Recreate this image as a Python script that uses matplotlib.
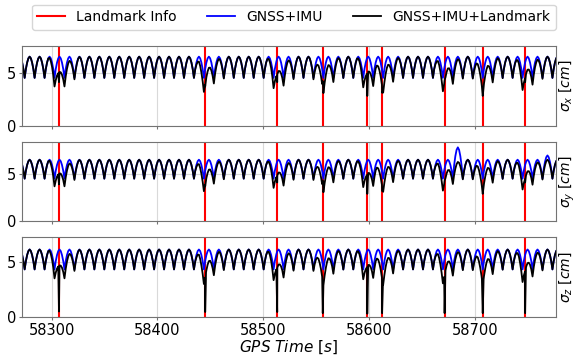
import numpy as np
import matplotlib.pyplot as plt

# epochs where landmark info is used [s]
landmark_t = [58307, 58445, 58513, 58556, 58598, 58612, 58671, 58707, 58747]

# one GNSS+IMU sigma arch (cusp -> peak -> cusp), read as fraction of the swing
arch_period = 9.4
arch_first_cusp = 58265.2
arch_frac = [0.0, 0.125, 0.25, 0.375, 0.5, 0.625, 0.75, 0.875]
arch_shape = [0.0, 0.42, 0.72, 0.92, 1.0, 0.92, 0.72, 0.42]

# arch levels per axis (x, y, z) [cm]
arch_lo = [4.5, 4.5, 4.3]
arch_hi = [6.5, 6.5, 6.1]

# extra GNSS+IMU growth on some arches (only sigma_y)
bump_t = [[], [58679, 58688, 58770], []]
bump_v = [[], [0.4, 0.9, 0.45], []]

# GNSS+IMU+Landmark sigma right at each landmark epoch [cm]
dip_x = [4.1, 3.7, 4.1, 4.2, 2.8, 3.1, 4.3, 2.8, 4.1]
dip_y = [3.9, 3.7, 4.1, 4.3, 2.9, 3.2, 4.3, 2.9, 4.1]
dip_z = [0.5, 0.45, 0.45, 0.35, 0.3, 0.35, 0.35, 0.35, 0.35]
dips = [dip_x, dip_y, dip_z]

# how far below GNSS+IMU the landmark solution stays around a landmark
red_dt = [-10, -6, -3, 0, 2, 5, 9, 14, 20]
red_w = [0.0, 0.3, 0.7, 1.0, 0.85, 0.55, 0.3, 0.1, 0.0]
red_amp = [1.5, 1.5, 1.5]

ylabels = [r'$\sigma_x\ [cm]$', r'$\sigma_y\ [cm]$', r'$\sigma_z\ [cm]$']
ytop = [7.5, 8.4, 7.2]
t_min, t_max = 58272, 58776

# ---------------- time samples ----------------
n_arch = int((t_max + 10 - arch_first_cusp) / arch_period) + 1
k = np.arange(n_arch)[:, None]
t_arch = (arch_first_cusp + (k + np.array(arch_frac)) * arch_period).ravel()
lm = np.array(landmark_t, dtype=float)
t = np.unique(np.concatenate([t_arch, lm - 0.8, lm, lm + 0.8]))
phase = ((t - arch_first_cusp) / arch_period) % 1
arch_idx = np.floor((t - arch_first_cusp) / arch_period)
shape = np.interp(phase, arch_frac + [1.0], arch_shape + [0.0])

fig, axes = plt.subplots(3, 1, figsize=(5.76, 3.58), dpi=100, sharex=True)
fig.subplots_adjust(left=0.038, right=0.965, top=0.8715, bottom=0.1145, hspace=0.2)

for i, ax in enumerate(axes):
    base = arch_lo[i] + (arch_hi[i] - arch_lo[i]) * shape

    blue = base.copy()
    for bt, bv in zip(bump_t[i], bump_v[i]):
        m = arch_idx == np.floor((bt - arch_first_cusp) / arch_period)
        blue[m] += bv * shape[m]

    red = np.zeros_like(t)
    for tl in landmark_t:
        red = np.maximum(red, red_amp[i] * np.interp(t - tl, red_dt, red_w, left=0, right=0))
    black = base - red
    for tl, d in zip(landmark_t, dips[i]):
        black[t == tl] = d

    for j, tl in enumerate(landmark_t):
        ax.axvline(tl, color='red', lw=1.5, label='Landmark Info' if j == 0 else None)
    ax.plot(t, blue, color='blue', lw=1.3, label='GNSS+IMU')
    ax.plot(t, black, color='black', lw=1.3, label='GNSS+IMU+Landmark')

    ax.set_xlim(t_min, t_max)
    ax.set_ylim(0, ytop[i])
    ax.set_yticks([0, 5])
    ax.set_xticks([58300, 58400, 58500, 58600, 58700])
    ax.grid(True, color='#d9d9d9', lw=0.8)
    ax.set_axisbelow(True)
    for s in ax.spines.values():
        s.set_color('0.45')
    ax.tick_params(labelsize=10.5, length=2, pad=2, color='0.45')
    ax.yaxis.set_label_position('right')
    ax.set_ylabel(ylabels[i], fontsize=10, labelpad=1)

axes[-1].set_xlabel(r'$GPS\ Time\ [s]$', fontsize=11, labelpad=1)

h, l = axes[0].get_legend_handles_labels()
fig.legend(h, l, loc='upper center', bbox_to_anchor=(0.51, 0.995), ncol=3,
           fontsize=10, frameon=True, borderaxespad=0.2, columnspacing=2.2)

fig.savefig('out.png', dpi=100)
